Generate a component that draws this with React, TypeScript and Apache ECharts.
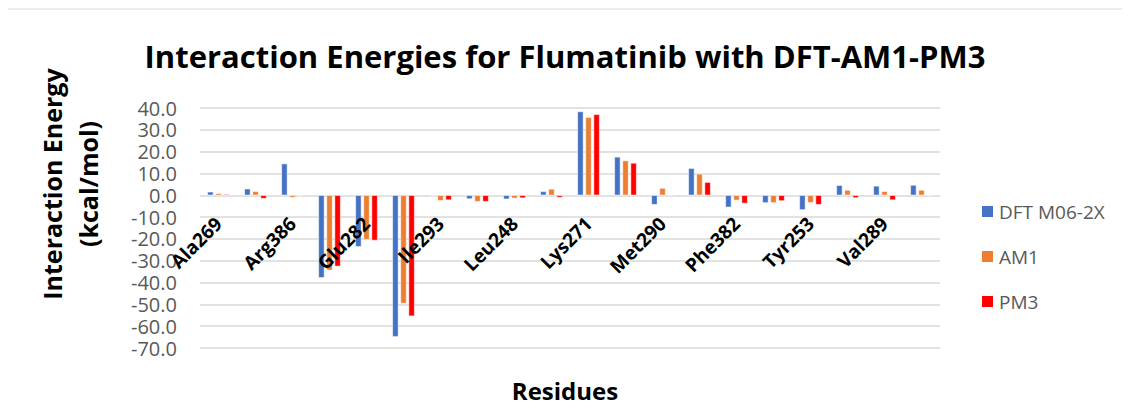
import React, { useEffect, useRef } from "react";
import * as echarts from "echarts";

const residues = [
  "Ala269", "Ala380", "Arg386", "Asp381", "Glu282", "Glu286", "Ile293", "Ile313",
  "Leu248", "Leu370", "Lys271", "Met244", "Met290", "Met318", "Phe382", "Thr315",
  "Tyr253", "Val256", "Val289", "Val299",
];
const dftValues = [1.6, 3.0, 14.5, -37.8, -23.6, -64.8, -0.3, -1.7, -1.8, 1.8, 38.4, 17.6, -4.3, 12.4, -5.5, -3.5, -6.7, 4.6, 4.3, 4.7];
const am1Values = [0.9, 1.8, -1.0, -34.4, -20.3, -49.6, -2.5, -2.9, -1.4, 2.9, 35.8, 15.9, 3.3, 9.8, -2.3, -3.5, -3.4, 2.4, 1.8, 2.4];
const pm3Values = [0.5, -1.5, -0.3, -32.6, -20.7, -55.4, -2.2, -2.9, -1.3, -1.0, 37.1, 14.8, -0.3, 6.0, -3.7, -2.6, -4.3, -1.2, -2.2, 0];
const seriesNames = ["DFT M06-2X", "AM1", "PM3"];
const seriesColors = ["#4472C4", "#ED7D31", "#FF0000"];
const yMin = -70;
const yMax = 40;
const yStep = 10;

const FONT = "'Open Sans', sans-serif";

export default function App() {
  const ref = useRef<HTMLDivElement>(null);
  useEffect(() => {
    if (!ref.current) return;
    const chart = echarts.init(ref.current, undefined, { renderer: "svg" });
    const data = [dftValues, am1Values, pm3Values];
    const gridTop = 108;
    const gridBottom = 68;
    const plotH = 416 - gridTop - gridBottom;
    const zeroOffset = -(plotH * (0 - yMin)) / (yMax - yMin);
    chart.setOption({
      animation: false,
      textStyle: { fontFamily: FONT },
      title: {
        text: "Interaction Energies for Flumatinib with DFT-AM1-PM3",
        left: "center",
        top: 35,
        textStyle: { fontFamily: FONT, fontSize: 31, fontWeight: "bold", color: "#000" },
      },
      graphic: [
        {
          type: "rect",
          shape: { x: 3, y: 9, width: 1122, height: 420 },
          style: { fill: "none", stroke: "#d9d9d9", lineWidth: 1 },
          silent: true,
        },
        {
          type: "text",
          x: 565,
          y: 390,
          style: {
            text: "Residues",
            fontFamily: FONT,
            fontSize: 24,
            fontWeight: "bold",
            fill: "#000",
            align: "center",
            verticalAlign: "middle",
          },
          silent: true,
        },
        {
          type: "text",
          x: 52,
          y: 184,
          rotation: Math.PI / 2,
          style: {
            text: "Interaction Energy",
            fontFamily: FONT,
            fontSize: 25,
            fontWeight: "bold",
            fill: "#000",
            align: "center",
            verticalAlign: "middle",
          },
          silent: true,
        },
        {
          type: "text",
          x: 88,
          y: 184,
          rotation: Math.PI / 2,
          style: {
            text: "(kcal/mol)",
            fontFamily: FONT,
            fontSize: 25,
            fontWeight: "bold",
            fill: "#000",
            align: "center",
            verticalAlign: "middle",
          },
          silent: true,
        },
      ],
      legend: {
        orient: "vertical",
        left: 975,
        top: 197,
        itemWidth: 13,
        itemHeight: 13,
        itemGap: 26,
        icon: "rect",
        textStyle: { fontFamily: FONT, fontSize: 19, color: "#595959" },
        data: seriesNames,
      },
      grid: { left: 200, right: 190, top: gridTop, bottom: gridBottom, containLabel: false, outerBoundsMode: "none" },
      xAxis: {
        type: "category",
        data: residues,
        position: "bottom",
        offset: zeroOffset,
        z: 10,
        axisLine: { onZero: false, show: false },
        axisTick: { show: false },
        axisLabel: {
          interval: 1,
          rotate: 45,
          margin: 25,
          fontFamily: FONT,
          fontSize: 19,
          fontWeight: "bold",
          color: "#000",
        },
      },
      yAxis: {
        type: "value",
        min: yMin,
        max: yMax,
        interval: yStep,
        axisLine: { show: false },
        axisTick: { show: false },
        axisLabel: {
          fontFamily: FONT,
          fontSize: 20,
          color: "#595959",
          margin: 23,
          formatter: (v: number) => v.toFixed(1),
        },
        splitLine: { lineStyle: { color: "#d9d9d9", width: 1.5 } },
      },
      series: seriesNames.map((name, i) => ({
        name,
        type: "bar",
        data: data[i],
        barWidth: 6,
        barGap: "35%",
        itemStyle: { color: seriesColors[i], borderColor: "#ffffff", borderWidth: 0.5 },
      })),
    });
    return () => chart.dispose();
  }, []);
  return <div ref={ref} style={{ width: 1130, height: 416, margin: -8 }} />;
}
